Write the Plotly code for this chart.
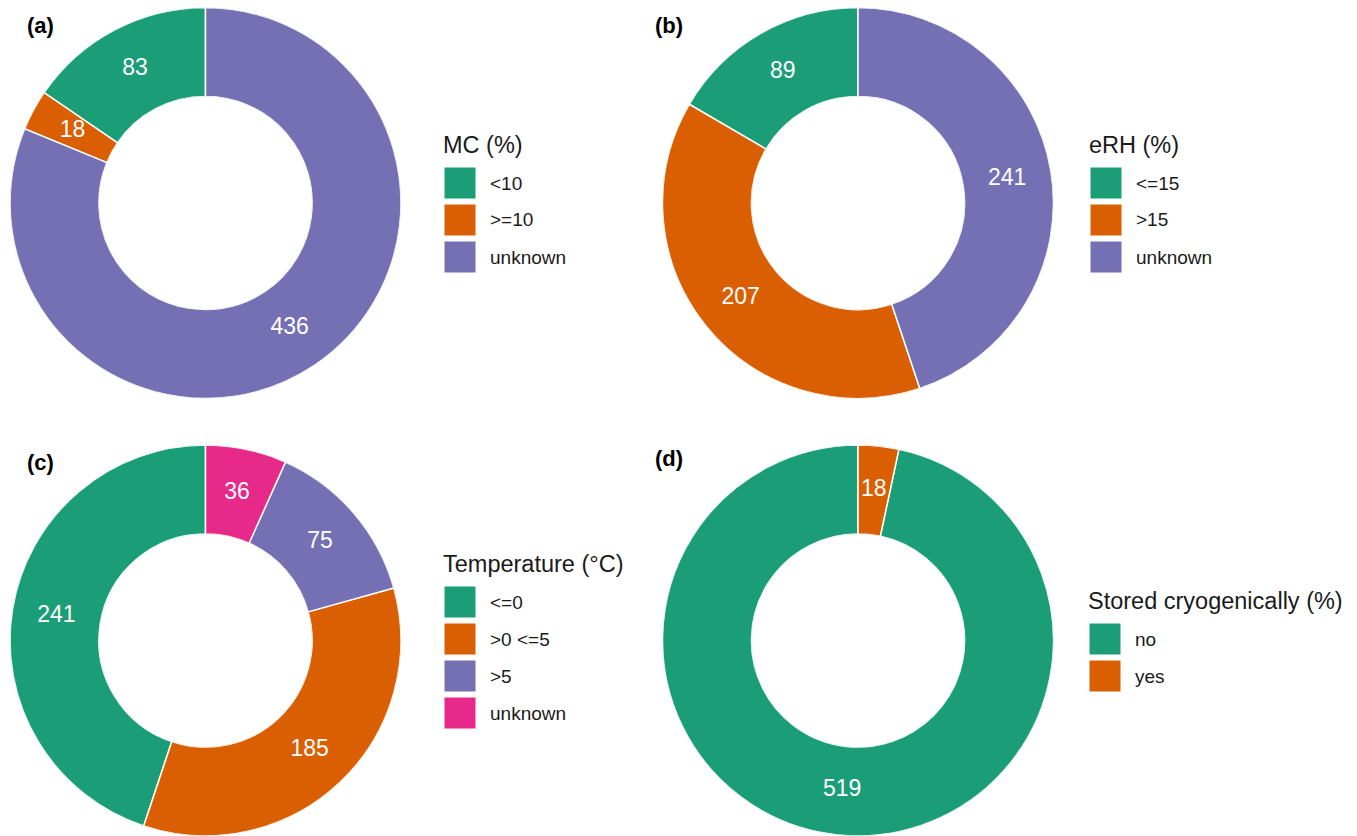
import plotly.graph_objects as go
import numpy as np

W, H = 1357, 836
FONT = "Liberation Sans, Arial, sans-serif"

# ---- data ----
mc_labels = ["<10", ">=10", "unknown"]
mc_values = [83, 18, 436]
erh_labels = ["<=15", ">15", "unknown"]
erh_values = [89, 207, 241]
temp_labels = ["<=0", ">0 <=5", ">5", "unknown"]
temp_values = [241, 185, 75, 36]
cryo_labels = ["no", "yes"]
cryo_values = [519, 18]

legend_titles = ["MC (%)", "eRH (%)", "Temperature (°C)", "Stored cryogenically (%)"]
panel_tags = ["(a)", "(b)", "(c)", "(d)"]
palette = ["#1B9E77", "#D95F02", "#7570B3", "#E7298A"]

panels_data = [
    (mc_labels, mc_values),
    (erh_labels, erh_values),
    (temp_labels, temp_values),
    (cryo_labels, cryo_values),
]

# ---- layout geometry (pixels) ----
R = 195.5
HOLE = 0.545
centers = [(205.5, 203.0), (858.0, 203.0), (205.5, 640.5), (858.0, 640.5)]
legend_x = [441, 1087, 441, 1086]
tag_pos = [(25, 26), (653, 26), (25, 462), (653, 459)]
KEY = 32
STEP = 37
TITLE_GAP = 38


def px_x(x):
    return x / W


def px_y(y):
    return 1 - y / H


fig = go.Figure()
shapes = []
annotations = []
layout_polars = {}

for i, (labels, values) in enumerate(panels_data):
    cx, cy = centers[i]
    n = len(labels)
    colors = palette[:n]
    sub = "polar" if i == 0 else f"polar{i + 1}"

    vals = np.asarray(values, dtype=float)
    widths = vals / vals.sum() * 360.0
    mids = np.cumsum(widths) - widths / 2.0

    # donut ring: polar bars, first level starting at 12 o'clock going counter-clockwise
    fig.add_trace(go.Barpolar(
        r=np.ones(n),
        theta=mids,
        width=widths,
        marker=dict(color=colors, line=dict(color="white", width=1.5)),
        customdata=labels,
        text=[str(v) for v in values],
        hovertemplate="%{customdata}: %{text}<extra></extra>",
        subplot=sub,
        showlegend=False,
    ))
    # value labels in the middle of the ring
    fig.add_trace(go.Scatterpolar(
        r=np.full(n, 0.5),
        theta=mids,
        mode="text",
        text=[str(v) for v in values],
        textfont=dict(color="white", size=23, family=FONT),
        hoverinfo="skip",
        subplot=sub,
        showlegend=False,
    ))

    layout_polars[sub] = dict(
        domain=dict(x=[max(0, px_x(cx - R)), min(1, px_x(cx + R))],
                    y=[max(0, px_y(cy + R)), min(1, px_y(cy - R))]),
        hole=HOLE,
        bgcolor="rgba(0,0,0,0)",
        radialaxis=dict(range=[0, 1], visible=False, showgrid=False),
        angularaxis=dict(rotation=90, direction="counterclockwise",
                         visible=False, showgrid=False),
    )

    # legend block, vertically centred on the donut
    block = TITLE_GAP + STEP * (n - 1)
    title_y = cy - block / 2 - 2
    lx = legend_x[i]
    annotations.append(dict(
        text=legend_titles[i], x=px_x(lx), y=px_y(title_y),
        xref="paper", yref="paper", xanchor="left", yanchor="middle",
        showarrow=False, font=dict(size=23.5, color="#1a1a1a", family=FONT),
    ))
    for k, lab in enumerate(labels):
        yc = title_y + TITLE_GAP + STEP * k
        shapes.append(dict(
            type="rect", xref="paper", yref="paper",
            x0=px_x(lx + 3), x1=px_x(lx + 3 + KEY),
            y0=px_y(yc + KEY / 2), y1=px_y(yc - KEY / 2),
            fillcolor=colors[k], line=dict(color="white", width=1),
        ))
        annotations.append(dict(
            text=lab, x=px_x(lx + 47), y=px_y(yc),
            xref="paper", yref="paper", xanchor="left", yanchor="middle",
            showarrow=False, font=dict(size=19, color="#1a1a1a", family=FONT),
        ))

    tx, ty = tag_pos[i]
    annotations.append(dict(
        text="<b>" + panel_tags[i] + "</b>", x=px_x(tx), y=px_y(ty),
        xref="paper", yref="paper", xanchor="left", yanchor="middle",
        showarrow=False, font=dict(size=22, color="black", family=FONT),
    ))

fig.update_layout(
    width=W, height=H,
    margin=dict(l=0, r=0, t=0, b=0),
    paper_bgcolor="white",
    plot_bgcolor="white",
    showlegend=False,
    shapes=shapes,
    annotations=annotations,
    font=dict(family=FONT),
    **layout_polars,
)

fig.write_html("out.html", config={"displayModeBar": False},
               post_script="document.body.style.margin='0';")
